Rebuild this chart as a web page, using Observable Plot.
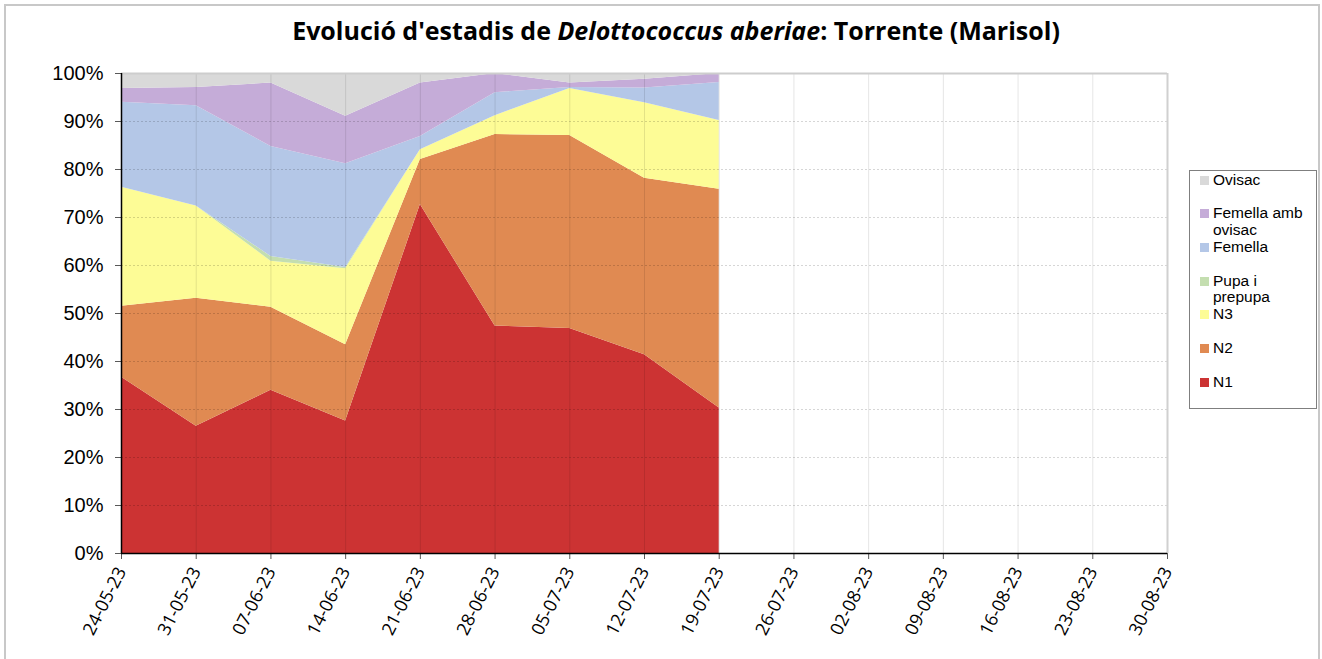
<!DOCTYPE html>
<html>
<head>
<meta charset="utf-8">
<script src="https://cdn.jsdelivr.net/npm/d3@7"></script>
<script src="https://cdn.jsdelivr.net/npm/@observablehq/plot@0.6"></script>
<style>
  html, body { margin: 0; padding: 0; background: #fff; }
  #wrap { position: relative; width: 1322px; height: 659px; overflow: hidden; }
  #frame { position: absolute; left: 4px; top: 4px; width: 1316px; height: 660px; border: 2px solid #c8c8c8; box-sizing: border-box; }
  #title { position: absolute; left: 0; top: 20px; width: 1322px; padding-left: 30px; box-sizing: border-box; text-align: center;
           font-family: "Open Sans", sans-serif; font-weight: bold; font-size: 25px; line-height: 20px; color: #000; white-space: nowrap; }
  #chart { position: absolute; left: 0; top: 60px; }
  #legend { position: absolute; left: 1189px; top: 170px; width: 128px; height: 239px; border: 1px solid #7f7f7f; box-sizing: border-box;
            font-family: "Liberation Sans", Arial, sans-serif; font-size: 15.5px; line-height: 16.5px; color: #000; }
  .item { position: absolute; left: 10px; }
  .sw { position: absolute; left: 0; top: 4px; width: 9px; height: 9px; }
  .lab { position: absolute; left: 13px; width: 96px; }
</style>
</head>
<body>
<div id="wrap">
  <div id="frame"></div>
  <div id="title">Evolució d'estadis de <i>Delottococcus aberiae</i>: Torrente (Marisol)</div>
  <div id="chart"></div>
  <div id="legend"></div>
</div>
<script>
// ---- data ----
const sampleDates = ["24-05-23","31-05-23","07-06-23","14-06-23","21-06-23","28-06-23","05-07-23","12-07-23","19-07-23"];
const tickLabels = ["24-05-23","31-05-23","07-06-23","14-06-23","21-06-23","28-06-23","05-07-23","12-07-23","19-07-23","26-07-23","02-08-23","09-08-23","16-08-23","23-08-23","30-08-23"];
const stages = ["N1","N2","N3","Pupa i prepupa","Femella","Femella amb ovisac","Ovisac"];
const stageColors = ["#cc3333","#e08a52","#fdfc96","#c4deb0","#b4c7e7","#c5acd8","#d9d9d9"];
const N1 = [36.7,26.5,34.0,27.6,72.7,47.4,46.9,41.4,30.3];
const N2 = [14.8,26.7,17.3,15.9,9.4,39.9,40.2,36.8,45.6];
const N3 = [24.8,19.2,9.6,15.8,2.0,3.9,9.8,15.7,14.3];
const pupa = [0,0,1.0,0.3,0,0,0,0,0];
const femella = [17.7,20.9,22.9,21.6,2.8,4.8,0.2,3.1,7.9];
const femellaOvisac = [2.9,3.8,13.2,9.9,11.1,4.0,0.9,1.8,1.9];
const ovisac = [3.1,2.9,2.0,8.9,2.0,0,2.0,1.2,0];
const yTicks = [0,10,20,30,40,50,60,70,80,90,100];

// ---- build ----
const parse = d3.utcParse("%d-%m-%y");
const seriesValues = [N1, N2, N3, pupa, femella, femellaOvisac, ovisac];
const rows = [];
stages.forEach((s, i) => {
  sampleDates.forEach((d, j) => rows.push({date: parse(d), stage: s, value: seriesValues[i][j]}));
});
const tickDates = tickLabels.map(parse);
const fmt = new Map(tickLabels.map(t => [+parse(t), t]));

const chart = Plot.plot({
  width: 1322,
  height: 599,
  marginTop: 13,
  marginBottom: 106,
  marginLeft: 121,
  marginRight: 155,
  style: {fontFamily: "'Liberation Sans', Arial, sans-serif", color: "#000", background: "transparent"},
  x: {type: "utc", domain: [tickDates[0], tickDates[tickDates.length - 1]]},
  y: {domain: [0, 100]},
  color: {domain: stages, range: stageColors},
  marks: [
    Plot.areaY(rows, {x: "date", y: "value", fill: "stage", z: "stage", order: stages, curve: "linear"}),
    Plot.ruleX(tickDates.slice(1, -1), {stroke: "#000", strokeOpacity: 0.1, strokeWidth: 1}),
    Plot.ruleY(yTicks.slice(1, -1), {stroke: "#000", strokeOpacity: 0.16, strokeDasharray: "2,2"}),
    Plot.ruleY([100], {stroke: "#cdcdcd", strokeWidth: 2}),
    Plot.ruleX([tickDates[tickDates.length - 1]], {stroke: "#d0d0d0", strokeWidth: 2}),
    Plot.axisY({ticks: yTicks, tickFormat: d => d + "%", tickSize: 6, tickPadding: 12, fontSize: 20, stroke: "#595959", label: null}),
    Plot.axisX({ticks: tickDates, tickFormat: d => fmt.get(+d), tickSize: 6, tickPadding: 9, tickRotate: -63,
                fontSize: 18, fontFamily: "'Open Sans', sans-serif", stroke: "#595959", label: null}),
    Plot.ruleY([0], {stroke: "#000", strokeWidth: 1.5}),
    Plot.ruleX([tickDates[0]], {stroke: "#000", strokeWidth: 1.5})
  ]
});
document.getElementById("chart").appendChild(chart);

// ---- legend ----
const legend = document.getElementById("legend");
const order = stages.map((s, i) => i).reverse();
order.forEach((i, k) => {
  const item = document.createElement("div");
  item.className = "item";
  item.style.top = (0.5 + 33.7 * k) + "px";
  const sw = document.createElement("div");
  sw.className = "sw";
  sw.style.background = stageColors[i];
  const lab = document.createElement("div");
  lab.className = "lab";
  lab.textContent = stages[i];
  item.appendChild(sw);
  item.appendChild(lab);
  legend.appendChild(item);
});
</script>
</body>
</html>
